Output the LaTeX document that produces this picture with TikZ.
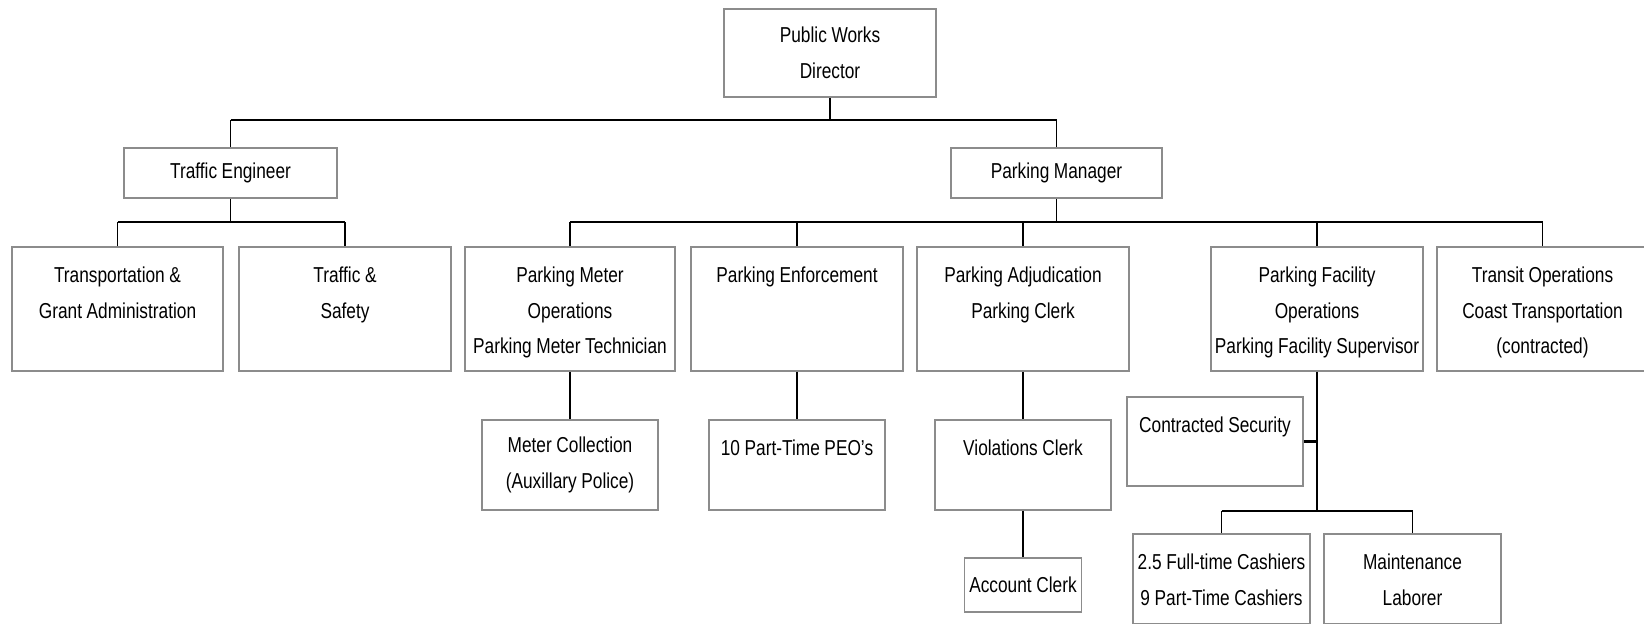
\documentclass[tikz,border=0pt]{standalone}
\usepackage{fontspec}
\setmainfont{Liberation Sans}[FakeStretch=0.8]
\hyphenpenalty=10000
\hbadness=10000
\definecolor{boxgray}{RGB}{140,140,140}
\tikzset{
	post/.style={draw=boxgray, line width=0.9pt, inner sep=0pt, align=center,
		font=\fontsize{10.8pt}{17.8pt}\selectfont,
		execute at begin node={\spaceskip=2.3pt\relax}},
	toptext/.style={text height=17.8pt, text depth=#1},
	bus/.style={line width=1.1pt},
	link/.style={line width=0.6pt},
}

\begin{document}
\begin{tikzpicture}[x=0.5pt, y=-0.5pt]
	\useasboundingbox (0,0) rectangle (1644,623);

	\node[post, minimum width=106pt, text width=104pt, minimum height=44pt] (pwd) at (830,53) {Public Works\\Director};
	\node[post, minimum width=106.5pt, text width=104pt, minimum height=25pt] (te) at (230.5,173) {Traffic Engineer};
	\node[post, minimum width=105.5pt, text width=104pt, minimum height=25pt] (pm) at (1056.5,173) {Parking Manager};

	% second row
	\node[post, minimum width=105.5pt, text width=104pt, toptext=44.2pt] (tga) at (117.5,309) {Transportation \&\\Grant Administration};
	\node[post, minimum width=106pt, text width=104pt, toptext=44.2pt] (ts) at (345,309) {Traffic \&\\Safety};
	\node[post, minimum width=105pt, text width=104pt, toptext=44.2pt] (pmo) at (570,309) {Parking Meter\\Operations\\Parking Meter Technician};
	\node[post, minimum width=106pt, text width=104pt, toptext=44.2pt] (pe) at (797,309) {Parking Enforcement};
	\node[post, minimum width=106pt, text width=104pt, toptext=44.2pt] (pa) at (1023,309) {Parking Adjudication\\Parking Clerk};
	\node[post, minimum width=106pt, text width=104pt, toptext=44.2pt] (pfo) at (1317,309) {Parking Facility\\Operations\\Parking Facility Supervisor};
	\node[post, minimum width=105.5pt, text width=104pt, toptext=44.2pt] (to) at (1542.5,309) {Transit Operations\\Coast Transportation\\(contracted)};

	% third row
	\node[post, minimum width=88pt, text width=86pt, minimum height=45pt] (mc) at (570,465) {Meter Collection\\(Auxillary Police)};
	\node[post, minimum width=88pt, text width=86pt, toptext=27.2pt] (ptp) at (797,465) {10 Part-Time PEO's};
	\node[post, minimum width=88pt, text width=86pt, toptext=27.2pt] (vc) at (1023,465) {Violations Clerk};
	\node[post, minimum width=58.5pt, text width=57pt, minimum height=27pt] (acct) at (1023,585) {Account Clerk};
	\node[post, minimum width=88pt, text width=86pt, toptext=26.7pt] (cs) at (1215,441.5) {Contracted Security};
	\node[post, minimum width=88.5pt, text width=86.5pt, toptext=27.2pt] (cash) at (1221.5,579) {2.5 Full-time Cashiers\\9 Part-Time Cashiers};
	\node[post, minimum width=88.5pt, text width=86.5pt, toptext=27.2pt] (maint) at (1412.5,579) {Maintenance\\Laborer};

	\coordinate (pwbus) at (830,120);
	\draw[link] (pwd.south) -- (pwd.south |- pwbus);
	\draw[bus] (te.north |- pwbus) -- (pm.north |- pwbus);
	\foreach \n in {te,pm}
		\draw[link] (\n.north) -- (\n.north |- pwbus);

	\coordinate (tebus) at (0,222);
	\draw[link] (te.south) -- (te.south |- tebus);
	\draw[bus] (tga.north |- tebus) -- (ts.north |- tebus);
	\foreach \n in {tga,ts}
		\draw[link] (\n.north) -- (\n.north |- tebus);

	\draw[link] (pm.south) -- (pm.south |- tebus);
	\draw[bus] (pmo.north |- tebus) -- (to.north |- tebus);
	\foreach \n in {pmo,pe,pa,pfo,to}
		\draw[link] (\n.north) -- (\n.north |- tebus);

	\draw[link] (pmo.south) -- (mc.north);
	\draw[link] (pe.south) -- (ptp.north);
	\draw[link] (pa.south) -- (vc.north);
	\draw[link] (vc.south) -- (acct.north);

	\coordinate (fbus) at (0,511);
	\draw[bus] (pfo.south) -- (pfo.south |- fbus);
	\draw[bus] (cs.east) -- (cs.east -| pfo.south);
	\draw[bus] (cash.north |- fbus) -- (maint.north |- fbus);
	\foreach \n in {cash,maint}
		\draw[link] (\n.north) -- (\n.north |- fbus);
\end{tikzpicture}
\end{document}
